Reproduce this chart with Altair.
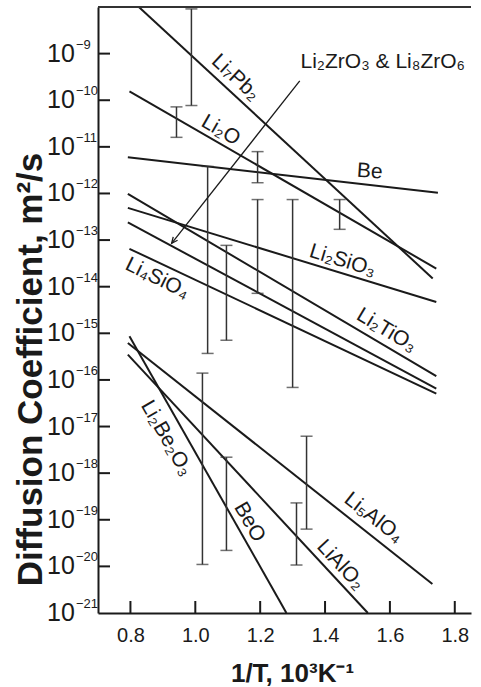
import altair as alt
import pandas as pd

FONT = "Liberation Sans"
INK = "#1a1a1a"

# Arrhenius lines: end points of each straight segment (1/T in 10^3 K^-1, D in m^2/s)
materials = ["Li7Pb2", "Li2O", "Be", "Li2TiO3", "Li2SiO3", "Li2ZrO3/Li8ZrO6",
             "Li4SiO4", "BeO", "Li5AlO4", "LiAlO2"]
inv_t_start = [0.826, 0.797, 0.792, 0.792, 0.792, 0.792, 0.797, 0.797, 0.792, 0.792]
d_start = [1.0e-8, 1.55e-10, 6.0e-12, 9.8e-13, 4.9e-13, 2.4e-13, 6.5e-14,
           8.6e-16, 6.2e-16, 3.5e-16]
inv_t_end = [1.732, 1.743, 1.748, 1.743, 1.743, 1.743, 1.743, 1.281, 1.731, 1.532]
d_end = [1.5e-14, 2.45e-14, 1.03e-12, 1.2e-16, 4.7e-15, 6.5e-17, 5.1e-17,
         1.0e-21, 4.2e-21, 1.0e-21]

# Error bars (1/T, lower D, upper D)
err_inv_t = [0.988, 0.942, 1.192, 1.038, 1.096, 1.192, 1.300, 1.445,
             1.022, 1.096, 1.343, 1.312]
err_low = [7.7e-11, 1.6e-11, 1.7e-12, 3.7e-16, 7.1e-16, 7.2e-15, 6.9e-17, 1.7e-13,
           1.1e-20, 2.2e-20, 6.3e-20, 1.07e-20]
err_high = [9.1e-9, 7.2e-11, 7.9e-12, 3.8e-12, 7.7e-14, 7.4e-13, 7.4e-13, 7.4e-13,
            1.4e-16, 2.2e-18, 6.2e-18, 2.3e-19]

# In-plot labels
label_text = ["Li₇Pb₂", "Li₂O", "Be", "Li₂SiO₃", "Li₂TiO₃", "Li₄SiO₄",
              "Li₂Be₂O₃", "BeO", "LiAlO₂", "Li₅AlO₄", "Li₂ZrO₃ & Li₈ZrO₆"]
label_inv_t = [1.124, 1.078, 1.538, 1.454, 1.590, 0.883, 0.911, 1.167, 1.448, 1.550, 1.578]
label_d = [3.05e-10, 2.24e-11, 2.95e-12, 3.6e-14, 1.15e-15, 1.5e-14, 5.6e-18,
           8.9e-20, 1.07e-20, 1.1e-19, 6.5e-10]
label_angle = [43, 30, 4, 17, 31, 26, 60, 60, 47, 38, 0]

# Pointer from the zirconate label to its line
arrow_inv_t = [1.322, 0.927]
arrow_d = [2.6e-10, 8.5e-14]

# Axis ticks
x_ticks = [0.8, 1.0, 1.2, 1.4, 1.6, 1.8]
y_ticks = [1e-9, 1e-10, 1e-11, 1e-12, 1e-13, 1e-14, 1e-15, 1e-16, 1e-17,
           1e-18, 1e-19, 1e-20, 1e-21]
y_tick_exp = ["−9", "−10", "−11", "−12", "−13", "−14", "−15", "−16", "−17",
              "−18", "−19", "−20", "−21"]

W, H = 373, 606
xs = alt.Scale(domain=[0.7, 1.85], nice=False, zero=False)
ys = alt.Scale(type="log", domain=[1e-21, 1e-8], nice=False)

lines = pd.DataFrame({"m": materials, "x": inv_t_start, "x2": inv_t_end,
                      "y": d_start, "y2": d_end})
errs = pd.DataFrame({"x": err_inv_t, "lo": err_low, "hi": err_high})
labels = pd.DataFrame({"t": label_text, "x": label_inv_t, "y": label_d, "a": label_angle})
arrow = pd.DataFrame({"x": [arrow_inv_t[0]], "x2": [arrow_inv_t[1]],
                      "y": [arrow_d[0]], "y2": [arrow_d[1]]})
arrow_tip = pd.DataFrame({"x": [arrow_inv_t[1]], "y": [arrow_d[1]]})
xt = pd.DataFrame({"x": x_ticks})
yt = pd.DataFrame({"y": y_ticks, "e": y_tick_exp})

x_axis = alt.Axis(values=x_ticks, format=".1f", ticks=False, grid=False,
                  labelFont=FONT, labelFontSize=20, labelColor=INK, labelPadding=12,
                  domainWidth=2, domainColor=INK,
                  title="1/T, 10³K⁻¹", titleFont=FONT, titleFontSize=26,
                  titleFontWeight="bold", titleColor=INK, titleX=194, titleY=68,
                  titleAlign="center", titleBaseline="alphabetic")
y_axis = alt.Axis(labels=False, ticks=False, grid=False, domainWidth=2, domainColor=INK,
                  title="Diffusion Coefficient, m²/s", titleFont=FONT, titleFontSize=35,
                  titleFontWeight="bold", titleColor=INK, titleX=-57, titleY=362,
                  titleAngle=270, titleAlign="center", titleBaseline="alphabetic")

base_lines = alt.Chart(lines).mark_rule(color=INK, strokeWidth=2).encode(
    x=alt.X("x:Q", scale=xs, axis=x_axis),
    x2="x2:Q",
    y=alt.Y("y:Q", scale=ys, axis=y_axis),
    y2="y2:Q",
)

err_rule = alt.Chart(errs).mark_rule(color="#333", strokeWidth=1.5).encode(
    x="x:Q", y="lo:Q", y2="hi:Q")
err_lo = alt.Chart(errs).mark_tick(color="#333", orient="horizontal", size=12,
                                   thickness=1.5).encode(x="x:Q", y="lo:Q")
err_hi = alt.Chart(errs).mark_tick(color="#333", orient="horizontal", size=12,
                                   thickness=1.5).encode(x="x:Q", y="hi:Q")

text = alt.Chart(labels).mark_text(font=FONT, fontSize=21, color=INK,
                                   align="center", baseline="middle").encode(
    x="x:Q", y="y:Q", text="t:N", angle=alt.Angle("a:Q", scale=None))

arrow_line = alt.Chart(arrow).mark_rule(color=INK, strokeWidth=1.3).encode(
    x="x:Q", x2="x2:Q", y="y:Q", y2="y2:Q")
arrow_head = alt.Chart(arrow_tip).mark_point(
    shape="M -0.45 -1 L 0 0 L 0.45 -1", filled=False, color=INK, strokeWidth=1.3,
    size=150, angle=38, opacity=1).encode(x="x:Q", y="y:Q")

top_border = alt.Chart(xt).mark_rule(color="#333", strokeWidth=2).encode(
    y=alt.value(0), x=alt.value(0), x2=alt.value(W))

x_tick_marks = alt.Chart(xt).mark_rule(color=INK, strokeWidth=2).encode(
    x="x:Q", y=alt.value(H - 12), y2=alt.value(H))
y_tick_marks = alt.Chart(yt[yt["y"] > 1e-21]).mark_rule(color=INK, strokeWidth=2).encode(
    y="y:Q", x=alt.value(0), x2=alt.value(12))

y_base = alt.Chart(yt).mark_text(font=FONT, fontSize=25, color=INK, align="left",
                                 baseline="middle").encode(
    y="y:Q", x=alt.value(-51), text=alt.value("10"))
y_exp = alt.Chart(yt).mark_text(font=FONT, fontSize=13, color=INK, align="left",
                                baseline="middle", dy=-9).encode(
    y="y:Q", x=alt.value(-22), text="e:N")

chart = alt.layer(
    base_lines, err_rule, err_lo, err_hi, arrow_line, arrow_head, text,
    top_border, x_tick_marks, y_tick_marks, y_base, y_exp,
).properties(
    width=W, height=H,
    autosize=alt.AutoSizeParams(type="none"),
    padding={"left": 98, "top": 7, "right": 10, "bottom": 74},
    background="white",
).configure_view(stroke=None)

chart.save("out.html", embed_options={"renderer": "svg", "actions": False})
